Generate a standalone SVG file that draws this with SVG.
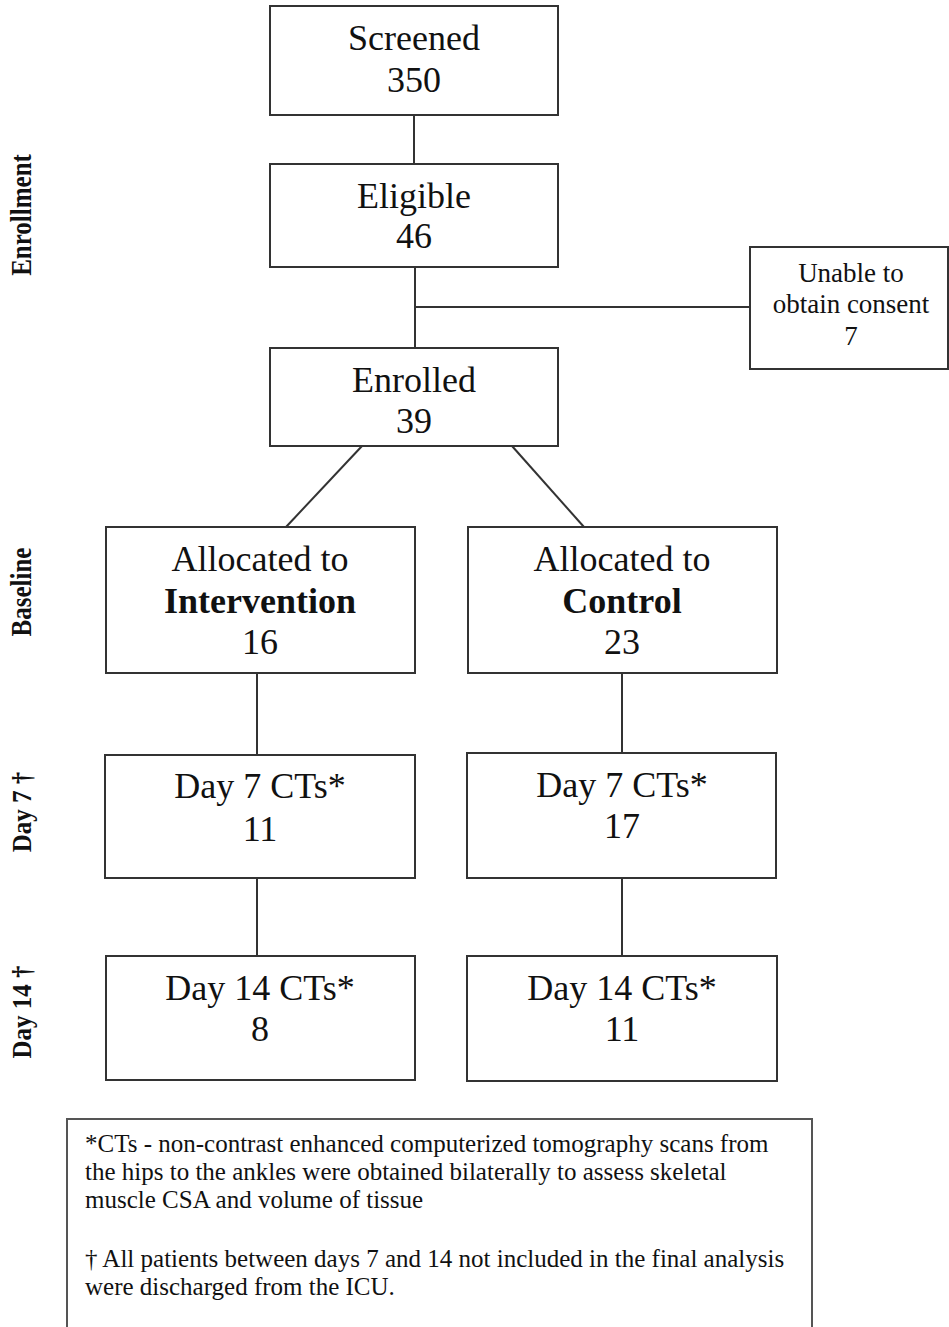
<svg xmlns="http://www.w3.org/2000/svg" width="949" height="1327" viewBox="0 0 949 1327">
<style>
.box{fill:#fff;stroke:#333;stroke-width:2}
.ln{stroke:#333;stroke-width:2;fill:none}
.t{font-family:"Liberation Serif","Times New Roman",serif;font-size:36px;fill:#111;text-anchor:middle}
.b{font-weight:bold}
.s{font-family:"Liberation Serif","Times New Roman",serif;font-size:27px;fill:#111;text-anchor:middle}
.f{font-family:"Liberation Serif","Times New Roman",serif;font-size:25px;fill:#111}
.side{font-family:"Liberation Serif","Times New Roman",serif;font-size:25px;font-weight:bold;fill:#111;text-anchor:middle}
</style>
<rect width="949" height="1327" fill="#fff"/>
<g id="side-labels">
<text class="side" transform="translate(31,215) rotate(-90) scale(1,1.15)">Enrollment</text>
<text class="side" transform="translate(31,592) rotate(-90) scale(1,1.15)">Baseline</text>
<text class="side" transform="translate(31,812) rotate(-90) scale(1,1.1)">Day 7 †</text>
<text class="side" transform="translate(31,1012) rotate(-90) scale(1,1.1)">Day 14 †</text>
</g>
<g id="connectors">
<line class="ln" x1="414" y1="115" x2="414" y2="164"/>
<line class="ln" x1="415" y1="267" x2="415" y2="348"/>
<line class="ln" x1="415" y1="307" x2="750" y2="307"/>
<line class="ln" x1="362" y1="446" x2="286" y2="527"/>
<line class="ln" x1="512" y1="446" x2="584" y2="527"/>
<line class="ln" x1="257" y1="673" x2="257" y2="755"/>
<line class="ln" x1="622" y1="673" x2="622" y2="753"/>
<line class="ln" x1="257" y1="878" x2="257" y2="956"/>
<line class="ln" x1="622" y1="878" x2="622" y2="956"/>
</g>
<g id="screened">
<rect class="box" x="270" y="6" width="288" height="109"/>
<text class="t" x="414" y="50">Screened</text>
<text class="t" x="414" y="92">350</text>
</g>
<g id="eligible">
<rect class="box" x="270" y="164" width="288" height="103"/>
<text class="t" x="414" y="208">Eligible</text>
<text class="t" x="414" y="248">46</text>
</g>
<g id="unable">
<rect class="box" x="750" y="247" width="198" height="122"/>
<text class="s" x="851" y="282">Unable to</text>
<text class="s" x="851" y="313">obtain consent</text>
<text class="s" x="851" y="345">7</text>
</g>
<g id="enrolled">
<rect class="box" x="270" y="348" width="288" height="98"/>
<text class="t" x="414" y="392">Enrolled</text>
<text class="t" x="414" y="433">39</text>
</g>
<g id="alloc-intervention">
<rect class="box" x="106" y="527" width="309" height="146"/>
<text class="t" x="260" y="571">Allocated to</text>
<text class="t b" x="260" y="613">Intervention</text>
<text class="t" x="260" y="654">16</text>
</g>
<g id="alloc-control">
<rect class="box" x="468" y="527" width="309" height="146"/>
<text class="t" x="622" y="571">Allocated to</text>
<text class="t b" x="622" y="613">Control</text>
<text class="t" x="622" y="654">23</text>
</g>
<g id="day7-intervention">
<rect class="box" x="105" y="755" width="310" height="123"/>
<text class="t" x="260" y="798">Day 7 CTs*</text>
<text class="t" x="260" y="841">11</text>
</g>
<g id="day7-control">
<rect class="box" x="467" y="753" width="309" height="125"/>
<text class="t" x="622" y="797">Day 7 CTs*</text>
<text class="t" x="622" y="838">17</text>
</g>
<g id="day14-intervention">
<rect class="box" x="106" y="956" width="309" height="124"/>
<text class="t" x="260" y="1000">Day 14 CTs*</text>
<text class="t" x="260" y="1041">8</text>
</g>
<g id="day14-control">
<rect class="box" x="467" y="956" width="310" height="125"/>
<text class="t" x="622" y="1000">Day 14 CTs*</text>
<text class="t" x="622" y="1041">11</text>
</g>
<g id="footnote">
<rect x="67" y="1119" width="745" height="230" fill="#fff" stroke="#555" stroke-width="2"/>
<text class="f" x="85" y="1152">*CTs - non-contrast enhanced computerized tomography scans from</text>
<text class="f" x="85" y="1180">the hips to the ankles were obtained bilaterally to assess skeletal</text>
<text class="f" x="85" y="1208">muscle CSA and volume of tissue</text>
<text class="f" x="85" y="1267">† All patients between days 7 and 14 not included in the final analysis</text>
<text class="f" x="85" y="1295">were discharged from the ICU.</text>
</g>
</svg>
